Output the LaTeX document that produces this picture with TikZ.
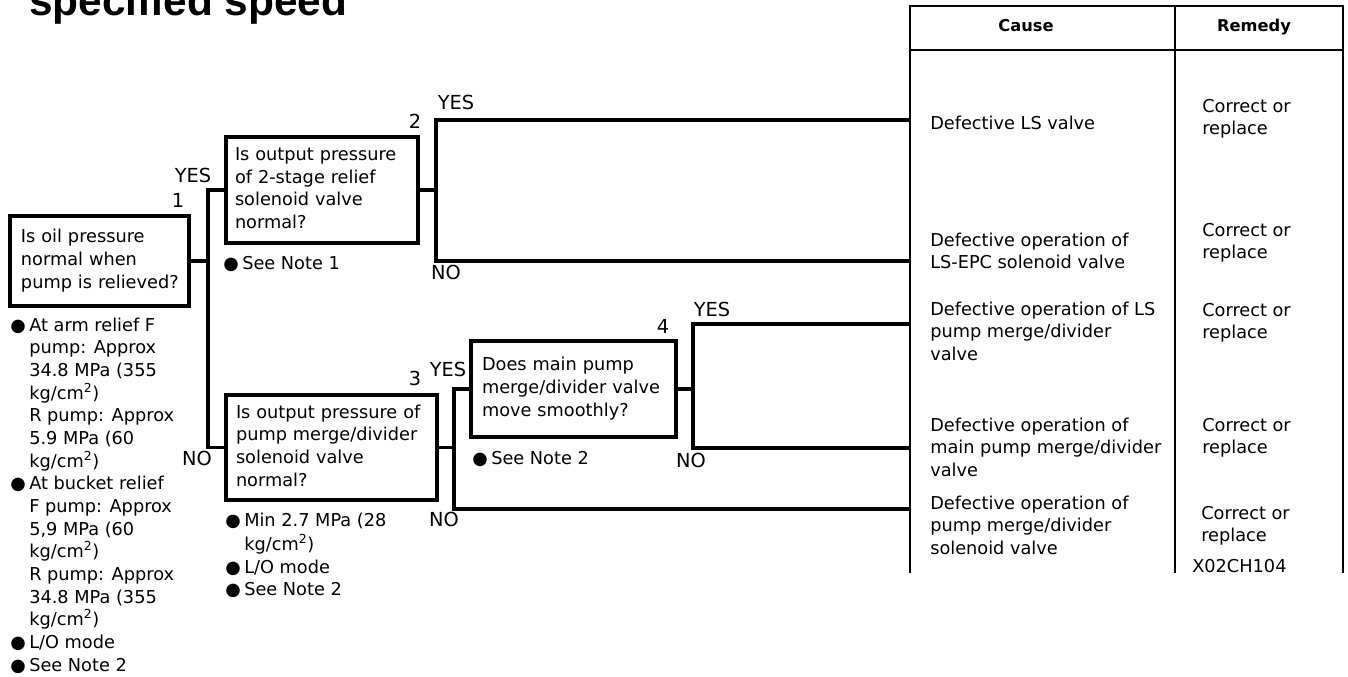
\documentclass[tikz,border=0pt]{standalone}
\usepackage{fontspec}
\setmainfont{DejaVu Sans}
\newfontfamily\titlefamily{Liberation Sans}
\newcommand\bodyf{\fontsize{13.3pt}{17pt}\selectfont}
\newcommand\labf{\fontsize{14.5pt}{17pt}\selectfont}
\newcommand\headf{\fontsize{12.2pt}{14pt}\selectfont\bfseries}
\newcommand\titlef{\titlefamily\fontsize{31.8pt}{36pt}\selectfont\bfseries}
\newcommand\bul{\makebox[14.25pt][l]{●}}
\newcommand\ind{\hspace*{14.25pt}}
\tikzset{
  conn/.style={line width=2.4pt},
  tabline/.style={line width=2pt},
  qbox/.style={draw, line width=2.4pt, rectangle, align=left, font=\bodyf, inner ysep=0pt, anchor=center},
  txt/.style={font=\bodyf, align=left, anchor=north west, inner sep=0pt},
  lab/.style={font=\labf, inner sep=0pt, anchor=base},
  head/.style={font=\headf, inner sep=0pt, anchor=base}
}
\begin{document}
\begin{tikzpicture}[x=0.75pt, y=-0.75pt, line join=miter]
\useasboundingbox (0,0) rectangle (1348,677);
\fill[white] (0,0) rectangle (1348,677);
\clip (0,0) rectangle (1348,677);

% title
\node[font=\titlef, anchor=base west, inner sep=0pt] (title) at (29,16) {specified speed};

% question boxes
\node[qbox, text width=117.75pt, inner xsep=8.25pt, minimum height=67.5pt] (q1) at (99.5,261)
  {\strut Is oil pressure\\normal when\\\mbox{pump is relieved?}\strut};
\node[qbox, text width=130.5pt, inner xsep=6.75pt, minimum height=79.5pt] (q2) at (322,190)
  {\strut Is output pressure\\of 2-stage relief\\solenoid valve\\normal?\strut};
\node[qbox, text width=143.25pt, inner xsep=7.5pt, minimum height=78.75pt] (q3) at (331.5,447.5)
  {\strut \mbox{Is output pressure of}\\pump merge/divider\\solenoid valve\\normal?\strut};
\node[qbox, text width=137.25pt, inner xsep=8.25pt, minimum height=72pt] (q4) at (573.5,389)
  {\strut Does main pump\\\mbox{merge/divider valve}\\move smoothly?\strut};

% numbers and branch labels
\node[lab] (n1) at (178,208) {1};
\node[lab] (n2) at (415,129) {2};
\node[lab] (n3) at (415,385) {3};
\node[lab] (n4) at (663,333) {4};
\node[lab] (y1) at (193,183) {YES};
\node[lab] (no1) at (197,465) {NO};
\node[lab] (y2) at (456,110) {YES};
\node[lab] (no2) at (446,279) {NO};
\node[lab] (y3) at (448,376) {YES};
\node[lab] (no3) at (444,526) {NO};
\node[lab] (y4) at (712,316) {YES};
\node[lab] (no4) at (691,467) {NO};

% junction coordinates
\coordinate (s1) at (208,261);
\coordinate (s1t) at (208,190);
\coordinate (s1b) at (208,447.5);
\coordinate (s2) at (436,190);
\coordinate (s2t) at (436,120);
\coordinate (s2b) at (436,261);
\coordinate (s3) at (454,447.5);
\coordinate (s3t) at (454,389);
\coordinate (s3b) at (454,509);
\coordinate (s4) at (693,389);
\coordinate (s4t) at (693,324);
\coordinate (s4b) at (693,448);
\coordinate (c1) at (910,120);
\coordinate (c2) at (910,261);
\coordinate (c3) at (910,324);
\coordinate (c4) at (910,448);
\coordinate (c5) at (910,509);

% connectors
\draw[conn] (q1.east) -- (s1);
\draw[conn] (q2.west) -- (s1t) -- (s1b) -- (q3.west);
\draw[conn] (q2.east) -- (s2);
\draw[conn] (c1) -- (s2t) -- (s2b) -- (c2);
\draw[conn] (q3.east) -- (s3);
\draw[conn] (q4.west) -- (s3t) -- (s3b) -- (c5);
\draw[conn] (q4.east) -- (s4);
\draw[conn] (c3) -- (s4t) -- (s4b) -- (c4);

% notes
\node[txt] (note1) at (10,315) {\strut\bul At arm relief F\\
\ind pump: Approx\\
\ind 34.8 MPa (355\\
\ind kg/cm\textsuperscript{2})\\
\ind R pump: Approx\\
\ind 5.9 MPa (60\\
\ind kg/cm\textsuperscript{2})\\
\bul At bucket relief\\
\ind F pump: Approx\\
\ind 5,9 MPa (60\\
\ind kg/cm\textsuperscript{2})\\
\ind R pump: Approx\\
\ind 34.8 MPa (355\\
\ind kg/cm\textsuperscript{2})\\
\bul L/O mode\\
\bul See Note 2};
\node[txt] (note2) at (223,253) {\strut\bul See Note 1};
\node[txt] (note3) at (225,510) {\strut\bul Min 2.7 MPa (28\\
\ind kg/cm\textsuperscript{2})\\
\bul L/O mode\\
\bul See Note 2};
\node[txt] (note4) at (472,448) {\strut\bul See Note 2};

% table
\draw[tabline] (910,573) -- (910,6) -- (1343,6) -- (1343,573);
\draw[tabline] (1175,6) -- (1175,573);
\draw[tabline] (910,50) -- (1343,50);
\node[head] (hcause) at (1026,31.5) {Cause};
\node[head] (hremedy) at (1254,31.5) {Remedy};

% causes
\node[txt] (ca1) at (930,113) {\strut Defective LS valve};
\node[txt] (ca2) at (930,230) {\strut Defective operation of\\LS-EPC solenoid valve};
\node[txt] (ca3) at (930,299) {\strut Defective operation of LS\\pump merge/divider\\valve};
\node[txt] (ca4) at (930,415) {\strut Defective operation of\\main pump merge/divider\\valve};
\node[txt] (ca5) at (930,493) {\strut Defective operation of\\pump merge/divider\\solenoid valve};

% remedies
\node[txt] (re1) at (1202,96) {\strut Correct or\\replace};
\node[txt] (re2) at (1202,220) {\strut Correct or\\replace};
\node[txt] (re3) at (1202,300) {\strut Correct or\\replace};
\node[txt] (re4) at (1202,415) {\strut Correct or\\replace};
\node[txt] (re5) at (1201,503) {\strut Correct or\\replace};
\node[txt] (code) at (1192,556) {\strut X02CH104};
\end{tikzpicture}
\end{document}
